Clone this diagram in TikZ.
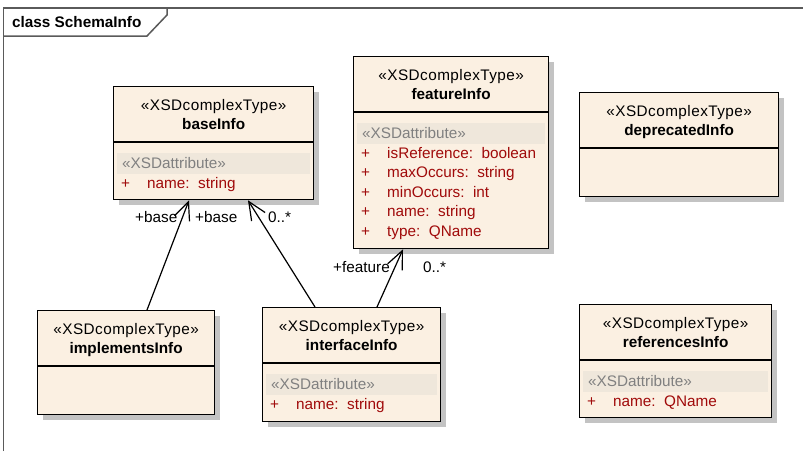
\documentclass[tikz,border=0pt]{standalone}
\usepackage{fontspec}
\setmainfont{Liberation Sans}
\newfontfamily\stereofont[LetterSpace=3]{Liberation Sans}
\usetikzlibrary{calc,arrows.meta}
\definecolor{clsfill}{RGB}{251,240,226}
\definecolor{bandfill}{RGB}{239,231,219}
\definecolor{bandtext}{RGB}{128,128,128}
\definecolor{attrred}{RGB}{160,10,10}
\definecolor{shadowgray}{RGB}{195,195,195}
\definecolor{framegray}{RGB}{90,90,90}
\tikzset{
  cls/.style={draw=black, line width=1.3pt, fill=clsfill, rectangle, inner sep=0pt,
    preaction={fill=shadowgray, transform canvas={shift={(5pt,-5pt)}}}},
  txt/.style={inner sep=0pt, font=\fontsize{15.3}{18}\selectfont},
  stereo/.style={txt, anchor=base, font=\stereofont\fontsize{15.3}{18}\selectfont},
  cname/.style={txt, anchor=base, font=\fontsize{15.3}{18}\selectfont\bfseries},
  bandtxt/.style={txt, anchor=base west, text=bandtext},
  attr/.style={txt, anchor=base west, text=attrred},
  sepline/.style={draw=black, line width=1.3pt},
  band/.style={fill=bandfill},
  assoc/.style={draw=black, line width=1.2pt, -{Straight Barb[length=18pt,width=16pt,line width=1.2pt]}},
  lbl/.style={txt, anchor=base west},
  frameline/.style={draw=framegray, line width=1.5pt},
}
\newcommand{\xsdclass}[6]{%
  \node[cls, minimum width=#4pt, minimum height=#5pt, anchor=north west] (#1) at (#2,#3) {};
  \node[stereo] (#1-st) at ($(#1.north)+(0,24)$) {«XSDcomplexType»};
  \node[cname] (#1-nm) at ($(#1.north)+(0,43)$) {#6};
  \draw[sepline] ($(#1.north west)+(0,56)$) -- ($(#1.north east)+(0,56)$);
}
\newcommand{\xsdband}[1]{%
  \fill[band] ($(#1.north west)+(4,67)$) rectangle ($(#1.north east)+(-4,88)$);
  \node[bandtxt] (#1-bt) at ($(#1.north west)+(9,82)$) {«XSDattribute»};
}
\newcommand{\xsdattr}[3]{% node, y offset, text
  \node[attr] at ($(#1.north west)+(8,#2)$) {+};
  \node[attr] at ($(#1.north west)+(34,#2)$) {#3};
}
\begin{document}
\begin{tikzpicture}[x=1pt,y=-1pt]
\useasboundingbox (0,0) rectangle (803,451);
% frame
\draw[frameline] (3.5,451) -- (3.5,8) -- (803,8);
\draw[frameline] (3.5,36) -- (147,36) -- (167,15) -- (167,8);
\node[lbl, font=\fontsize{15.3}{18}\selectfont\bfseries] (title) at (12,27) {class SchemaInfo};

% classes
\xsdclass{base}{113}{86}{200}{113}{baseInfo}
\xsdband{base}
\xsdattr{base}{102}{name:\ \ string}

\xsdclass{feature}{353}{56}{195}{192}{featureInfo}
\xsdband{feature}
\xsdattr{feature}{102}{isReference:\ \ boolean}
\xsdattr{feature}{121.5}{maxOccurs:\ \ string}
\xsdattr{feature}{141}{minOccurs:\ \ int}
\xsdattr{feature}{160.5}{name:\ \ string}
\xsdattr{feature}{180}{type:\ \ QName}

\xsdclass{deprecated}{579}{92}{199}{104}{deprecatedInfo}

\xsdclass{impl}{37}{310}{177}{104}{implementsInfo}

\xsdclass{iface}{262}{307}{178}{114}{interfaceInfo}
\xsdband{iface}
\xsdattr{iface}{102}{name:\ \ string}

\xsdclass{refs}{579}{304}{192}{113}{referencesInfo}
\xsdband{refs}
\xsdattr{refs}{102}{name:\ \ QName}

% connectors
\draw[assoc] ($(impl.north west)+(110,0)$) -- ($(base.south west)+(76,0)$);
\draw[assoc] ($(iface.north west)+(53,0)$) -- ($(base.south west)+(135,0)$);
\draw[assoc] ($(iface.north west)+(115,0)$) -- ($(feature.south west)+(50,0)$);

% labels
\node[lbl] (l1) at (135,222) {+base};
\node[lbl] (l2) at (195,222) {+base};
\node[lbl] (l3) at (268,222) {0..*};
\node[lbl] (l4) at (333,272) {+feature};
\node[lbl] (l5) at (423,272) {0..*};
\end{tikzpicture}
\end{document}
